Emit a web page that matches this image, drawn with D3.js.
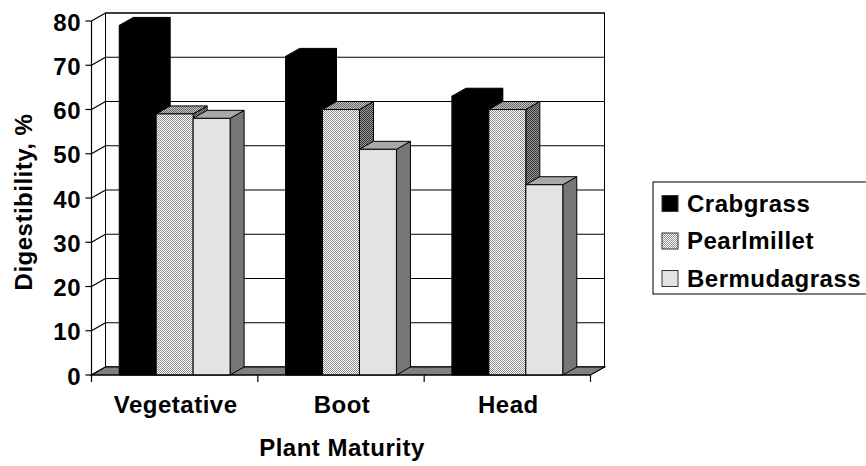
<!DOCTYPE html>
<html>
<head>
<meta charset="utf-8">
<script src="https://cdn.jsdelivr.net/npm/d3@7"></script>
<style>
  body { margin: 0; background: #fff; }
  text {
    font-family: "Liberation Sans", Arial, sans-serif;
    font-weight: bold;
    font-size: 24px;
    letter-spacing: 0.5px;
    fill: #000;
  }
</style>
</head>
<body>
<svg id="chart" width="866" height="466"></svg>
<script>
// data
var categories = ["Vegetative", "Boot", "Head"];
var seriesNames = ["Crabgrass", "Pearlmillet", "Bermudagrass"];
var crabgrass = [79, 72, 63];
var pearlmillet = [59, 60, 60];
var bermudagrass = [58, 51, 43];
var yTicks = [0, 10, 20, 30, 40, 50, 60, 70, 80];

var seriesValues = [crabgrass, pearlmillet, bermudagrass];

var svg = d3.select("#chart");

// 3d offset of the depth axis
var dx = 14, dy = -8;

var x = d3.scaleBand().domain(categories).range([91.5, 590.5]);
var xs = d3.scaleBand().domain(seriesNames)
    .range([0, x.bandwidth()])
    .paddingInner(0)
    .paddingOuter(0.75);
var y = d3.scaleLinear().domain([0, 80]).range([375, 21]);

// dithered fills like the old excel patterns
var defs = svg.append("defs");
function checker(id, c1, c2) {
    var p = defs.append("pattern")
        .attr("id", id)
        .attr("width", 2).attr("height", 2)
        .attr("patternUnits", "userSpaceOnUse");
    p.append("rect").attr("width", 2).attr("height", 2).attr("fill", c1);
    p.append("rect").attr("width", 1).attr("height", 1).attr("fill", c2);
    p.append("rect").attr("x", 1).attr("y", 1).attr("width", 1).attr("height", 1).attr("fill", c2);
}
checker("pmFront", "#ffffff", "#8e8e8e");
checker("pmTop", "#c4c4c4", "#666666");
checker("pmSide", "#9a9a9a", "#333333");

var fills = {
    Crabgrass: { front: "#000", top: "#000", side: "#000" },
    Pearlmillet: { front: "url(#pmFront)", top: "url(#pmTop)", side: "url(#pmSide)" },
    Bermudagrass: { front: "#e3e3e3", top: "#a9a9a9", side: "#767676" }
};

var x0 = x.range()[0], x1 = x.range()[1];
var yZero = y(0), yTop = y(80);

// back wall
svg.append("rect")
    .attr("x", x0 + dx).attr("y", yTop + dy)
    .attr("width", x1 - x0).attr("height", yZero - yTop)
    .attr("fill", "#fff")
    .attr("stroke", "#000").attr("stroke-width", 1);

// grid lines on the back wall and the left side wall
var grid = svg.append("g");
grid.selectAll("line.back")
    .data(yTicks)
    .join("line")
    .attr("class", "back")
    .attr("x1", x0 + dx).attr("x2", x1 + dx)
    .attr("y1", function(d) { return y(d) + dy; })
    .attr("y2", function(d) { return y(d) + dy; })
    .attr("stroke", "#000").attr("stroke-width", 1.2);
grid.selectAll("line.side")
    .data(yTicks)
    .join("line")
    .attr("class", "side")
    .attr("x1", x0).attr("x2", x0 + dx)
    .attr("y1", function(d) { return y(d); })
    .attr("y2", function(d) { return y(d) + dy; })
    .attr("stroke", "#000").attr("stroke-width", 1.2);

// floor
svg.append("polygon")
    .attr("points", [[x0, yZero], [x1, yZero], [x1 + dx, yZero + dy], [x0 + dx, yZero + dy]].join(" "))
    .attr("fill", "#808080")
    .attr("stroke", "#000").attr("stroke-width", 1.2);

// value axis
svg.append("line")
    .attr("x1", x0).attr("x2", x0)
    .attr("y1", yTop).attr("y2", yZero)
    .attr("stroke", "#000").attr("stroke-width", 1.2);
svg.selectAll("line.ytick")
    .data(yTicks)
    .join("line")
    .attr("class", "ytick")
    .attr("x1", x0 - 6).attr("x2", x0)
    .attr("y1", function(d) { return y(d); })
    .attr("y2", function(d) { return y(d); })
    .attr("stroke", "#000").attr("stroke-width", 1.2);
svg.selectAll("text.ylab")
    .data(yTicks)
    .join("text")
    .attr("class", "ylab")
    .attr("x", 81)
    .attr("y", function(d) { return y(d) + 9.5; })
    .attr("text-anchor", "end")
    .text(function(d) { return d; });

// bars
var bars = [];
categories.forEach(function(c, i) {
    seriesNames.forEach(function(s, j) {
        bars.push({ cat: c, ser: s, value: seriesValues[j][i] });
    });
});

var g = svg.append("g").selectAll("g")
    .data(bars)
    .join("g");

function faces(d) {
    var l = x(d.cat) + xs(d.ser), r = l + xs.bandwidth();
    var t = y(d.value), b = y(0);
    return {
        front: [[l, t], [r, t], [r, b], [l, b]],
        top: [[l, t], [r, t], [r + dx, t + dy], [l + dx, t + dy]],
        side: [[r, t], [r + dx, t + dy], [r + dx, b + dy], [r, b]]
    };
}
["side", "top", "front"].forEach(function(face) {
    g.append("polygon")
        .attr("points", function(d) { return faces(d)[face].join(" "); })
        .attr("fill", function(d) { return fills[d.ser][face]; })
        .attr("stroke", "#000")
        .attr("stroke-width", 1)
        .attr("stroke-linejoin", "round");
});

// category axis on the front edge of the floor
svg.append("line")
    .attr("x1", x0).attr("x2", x1)
    .attr("y1", yZero).attr("y2", yZero)
    .attr("stroke", "#000").attr("stroke-width", 1.2);
var catEdges = categories.map(function(c) { return x(c); }).concat([x1]);
svg.selectAll("line.xtick")
    .data(catEdges)
    .join("line")
    .attr("class", "xtick")
    .attr("x1", function(d) { return d; }).attr("x2", function(d) { return d; })
    .attr("y1", yZero).attr("y2", yZero + 7)
    .attr("stroke", "#000").attr("stroke-width", 1.2);
svg.selectAll("text.xlab")
    .data(categories)
    .join("text")
    .attr("class", "xlab")
    .attr("x", function(d) { return x(d) + x.bandwidth() / 2 + 1; })
    .attr("y", 413)
    .attr("text-anchor", "middle")
    .text(function(d) { return d; });

// axis titles
svg.append("text")
    .attr("x", 342).attr("y", 456)
    .attr("text-anchor", "middle")
    .text("Plant Maturity");
svg.append("text")
    .attr("transform", "translate(32,202) rotate(-90)")
    .attr("text-anchor", "middle")
    .text("Digestibility, %");

// legend
var legend = svg.append("g");
legend.append("rect")
    .attr("x", 653).attr("y", 182)
    .attr("width", 240).attr("height", 112)
    .attr("fill", "#fff")
    .attr("stroke", "#000").attr("stroke-width", 1);
var item = legend.selectAll("g.item")
    .data(seriesNames)
    .join("g")
    .attr("class", "item")
    .attr("transform", function(d, i) { return "translate(662," + (211.5 + i * 37.5) + ")"; });
item.append("rect")
    .attr("x", 0).attr("y", -16)
    .attr("width", 16).attr("height", 16)
    .attr("fill", function(d) { return fills[d].front; })
    .attr("stroke", "#333").attr("stroke-width", 1);
item.append("text")
    .attr("x", 25).attr("y", 0)
    .text(function(d) { return d; });
</script>
</body>
</html>
